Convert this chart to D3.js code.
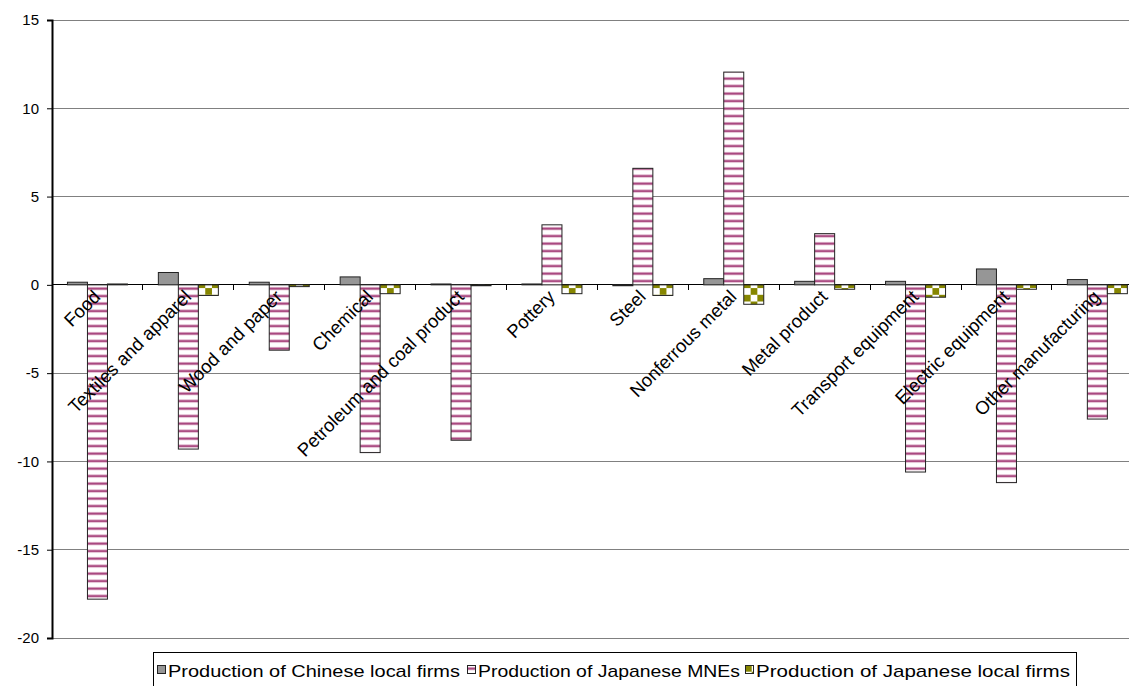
<!DOCTYPE html>
<html>
<head>
<meta charset="utf-8">
<script src="https://cdn.jsdelivr.net/npm/d3@7/dist/d3.min.js"></script>
<style>
  html, body { margin: 0; padding: 0; background: #fff; }
  svg { display: block; font-family: "Liberation Sans", Arial, sans-serif; }
</style>
</head>
<body>
<div id="chart"></div>
<script>
// Industries on the x axis
const categories = [
  "Food", "Textiles and apparel", "Wood and paper", "Chemical",
  "Petroleum and coal product", "Pottery", "Steel", "Nonferrous metal",
  "Metal product", "Transport equipment", "Electric equipment", "Other manufacturing"
];

// Series values per industry
const chineseLocal = [0.15, 0.7, 0.15, 0.45, 0.05, 0.05, -0.05, 0.35, 0.2, 0.2, 0.9, 0.3];
const japaneseMNEs = [-17.8, -9.3, -3.7, -9.5, -8.8, 3.4, 6.6, 12.05, 2.9, -10.6, -11.2, -7.6];
const japaneseLocal = [0.05, -0.6, -0.1, -0.5, -0.05, -0.5, -0.6, -1.1, -0.25, -0.7, -0.25, -0.5];

const seriesNames = [
  "Production of Chinese local firms",
  "Production of Japanese MNEs",
  "Production of Japanese local firms"
];
const yTicks = [15, 10, 5, 0, -5, -10, -15, -20];

const W = 1129, H = 686;
const plotLeft = 52, plotTop = 20, plotBottom = 638;
const bandStep = 90.9;

const svg = d3.select("#chart").append("svg")
  .attr("width", W).attr("height", H);

// Fill patterns
const defs = svg.append("defs");
const stripe = defs.append("pattern")
  .attr("id", "stripes").attr("patternUnits", "userSpaceOnUse")
  .attr("width", 8).attr("height", 7.5);
stripe.append("rect").attr("width", 8).attr("height", 7.5).attr("fill", "#fff");
stripe.append("rect").attr("y", 2).attr("width", 8).attr("height", 3.2).attr("fill", "#e6c3d6");
stripe.append("rect").attr("y", 2.6).attr("width", 8).attr("height", 2).attr("fill", "#a8457e");

const checks = defs.append("pattern")
  .attr("id", "checks").attr("patternUnits", "userSpaceOnUse")
  .attr("width", 13.4).attr("height", 13.4);
checks.append("rect").attr("width", 13.4).attr("height", 13.4).attr("fill", "#fff");
checks.append("rect").attr("width", 6.7).attr("height", 6.7).attr("fill", "#868600");
checks.append("rect").attr("x", 6.7).attr("y", 6.7).attr("width", 6.7).attr("height", 6.7).attr("fill", "#868600");

const fills = ["#969696", "url(#stripes)", "url(#checks)"];

const x0 = d3.scaleBand()
  .domain(categories)
  .range([plotLeft, plotLeft + bandStep * categories.length])
  .paddingInner(0).paddingOuter(0);

const x1 = d3.scaleBand()
  .domain([0, 1, 2])
  .range([0, 60]);

const y = d3.scaleLinear()
  .domain([-20, 15])
  .range([plotBottom, plotTop]);

// Horizontal gridlines
svg.append("g").selectAll("line")
  .data(yTicks)
  .join("line")
  .attr("x1", plotLeft).attr("x2", W)
  .attr("y1", d => y(d)).attr("y2", d => y(d))
  .attr("stroke", d => d === 0 ? "#000" : "#808080")
  .attr("stroke-width", 1)
  .attr("shape-rendering", "crispEdges");

// Y axis
const yAxis = svg.append("g")
  .attr("transform", `translate(${plotLeft},0)`)
  .call(d3.axisLeft(y).tickValues(yTicks).tickSize(5).tickPadding(8)
    .tickFormat(d => String(d)));
yAxis.attr("font-family", null);
yAxis.select(".domain").attr("stroke", "#000").attr("stroke-width", 2);
yAxis.selectAll(".tick line").attr("stroke", "#000");
yAxis.selectAll(".tick text")
  .attr("font-size", 15).attr("fill", "#000");

// Category tick marks along zero line
svg.append("g").selectAll("line")
  .data(categories.slice(1))
  .join("line")
  .attr("x1", d => x0(d)).attr("x2", d => x0(d))
  .attr("y1", y(0)).attr("y2", y(0) + 5)
  .attr("stroke", "#000")
  .attr("shape-rendering", "crispEdges");

// Bars
const seriesData = [chineseLocal, japaneseMNEs, japaneseLocal];
const groupOffset = (x0.bandwidth() - 60) / 2;
const groups = svg.append("g").selectAll("g")
  .data(categories)
  .join("g")
  .attr("transform", d => `translate(${x0(d) + groupOffset},0)`);

groups.selectAll("rect")
  .data((d, i) => seriesData.map((s, k) => ({ k, v: s[i] })))
  .join("rect")
  .attr("x", d => x1(d.k))
  .attr("width", x1.bandwidth())
  .attr("y", d => y(Math.max(0, d.v)))
  .attr("height", d => Math.abs(y(d.v) - y(0)))
  .attr("fill", d => fills[d.k])
  .attr("stroke", "#222")
  .attr("stroke-width", 1);

// Category labels rotated
svg.append("g").selectAll("text")
  .data(categories)
  .join("text")
  .attr("transform", d => `translate(${x0(d) + x0.bandwidth() / 2 + 4},${y(0) + 13}) rotate(-45)`)
  .attr("text-anchor", "end")
  .attr("font-size", 18.5)
  .attr("fill", "#000")
  .text(d => d);

// Legend
const legend = svg.append("g");
legend.append("rect")
  .attr("x", 153.5).attr("y", 652.5)
  .attr("width", 923).attr("height", 40)
  .attr("fill", "#fff").attr("stroke", "#000");

const legendX = [157, 467, 745];
const legendW = [292, 262, 314];
const item = legend.selectAll("g.item")
  .data(seriesNames)
  .join("g")
  .attr("class", "item")
  .attr("transform", (d, i) => `translate(${legendX[i]},665)`);
item.append("rect")
  .attr("x", 0.5).attr("y", 0.5)
  .attr("width", 8).attr("height", 8)
  .attr("fill", (d, i) => fills[i])
  .attr("stroke", "#222");
item.append("text")
  .attr("x", 11).attr("y", 12)
  .attr("font-size", 17)
  .attr("textLength", (d, i) => legendW[i])
  .attr("lengthAdjust", "spacingAndGlyphs")
  .attr("fill", "#000")
  .text(d => d);
</script>
</body>
</html>
